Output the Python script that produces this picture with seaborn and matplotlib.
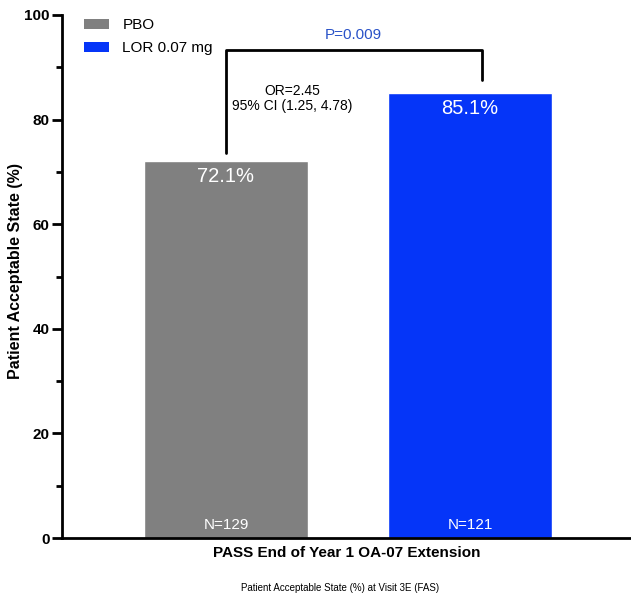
import matplotlib
matplotlib.use("Agg")
import matplotlib.pyplot as plt
from matplotlib.patches import Patch
from matplotlib.ticker import MultipleLocator
import pandas as pd
import seaborn as sns

# chart values
groups = ["PBO", "LOR 0.07 mg"]
pct = [72.1, 85.1]
n_labels = ["N=129", "N=121"]
colors = ["#808080", "#0535f8"]
odds_text = "OR=2.45\n95% CI (1.25, 4.78)"
p_text = "P=0.009"

sns.set_theme(style="white")
plt.rcParams["font.family"] = ["Liberation Sans", "DejaVu Sans"]
plt.rcParams["text.color"] = "black"
plt.rcParams["axes.labelcolor"] = "black"
plt.rcParams["ytick.color"] = "black"

df = pd.DataFrame({"group": groups, "pct": pct})

fig = plt.figure(figsize=(6.31, 5.95), dpi=100)
ax = fig.add_axes([62 / 631, 57 / 595, 1 - 62 / 631, 523 / 595])

sns.barplot(data=df, x="group", y="pct", hue="group", palette=colors,
            dodge=False, width=0.672, saturation=1, legend=False, ax=ax)

ax.set_ylim(0, 100)
ax.set_xlim(-0.672, 1.66)
ax.yaxis.set_major_locator(MultipleLocator(20))
ax.yaxis.set_minor_locator(MultipleLocator(10))
ax.tick_params(axis="y", which="major", length=7, width=2, direction="out",
               left=True, labelsize=11, pad=2)
ax.tick_params(axis="y", which="minor", length=4, width=2, direction="out", left=True)
ax.set_xticks([])
for lbl in ax.get_yticklabels():
    lbl.set_fontweight("bold")

for side in ["top", "right"]:
    ax.spines[side].set_visible(False)
for side in ["left", "bottom"]:
    ax.spines[side].set_linewidth(2)
    ax.spines[side].set_color("black")

ax.set_ylabel("Patient Acceptable State (%)", fontsize=11.5, fontweight="bold")
ax.yaxis.set_label_coords(-0.069, 0.51)
ax.set_xlabel("PASS End of Year 1 OA-07 Extension", fontsize=11, fontweight="bold", labelpad=6)

# labels on the bars
for i, (v, n) in enumerate(zip(pct, n_labels)):
    ax.text(i, v - 1.2, f"{v}%", ha="center", va="top", color="white", fontsize=14.5)
    ax.text(i, 2.5, n, ha="center", va="center", color="white", fontsize=11)

# significance bracket
ax.plot([0, 0, 1.05, 1.05], [73.6, 93.3, 93.3, 87.6], color="black", lw=2, clip_on=False)
ax.text(0.52, 96.2, p_text, ha="center", va="center", color="#2952c8", fontsize=11)
ax.text(0.27, 84, odds_text, ha="center", va="center", color="black", fontsize=10,
        linespacing=1.1)

handles = [Patch(facecolor=c, edgecolor="none") for c in colors]
ax.legend(handles, groups, loc="upper left", bbox_to_anchor=(0.015, 1.02), frameon=False,
          fontsize=11, handlelength=1.6, handleheight=0.7, handletextpad=0.9,
          labelspacing=0.6)

fig.text(340 / 631, 7 / 595, "Patient Acceptable State (%) at Visit 3E (FAS)",
         ha="center", va="center", fontsize=7)

fig.savefig("out.png", dpi=100)
